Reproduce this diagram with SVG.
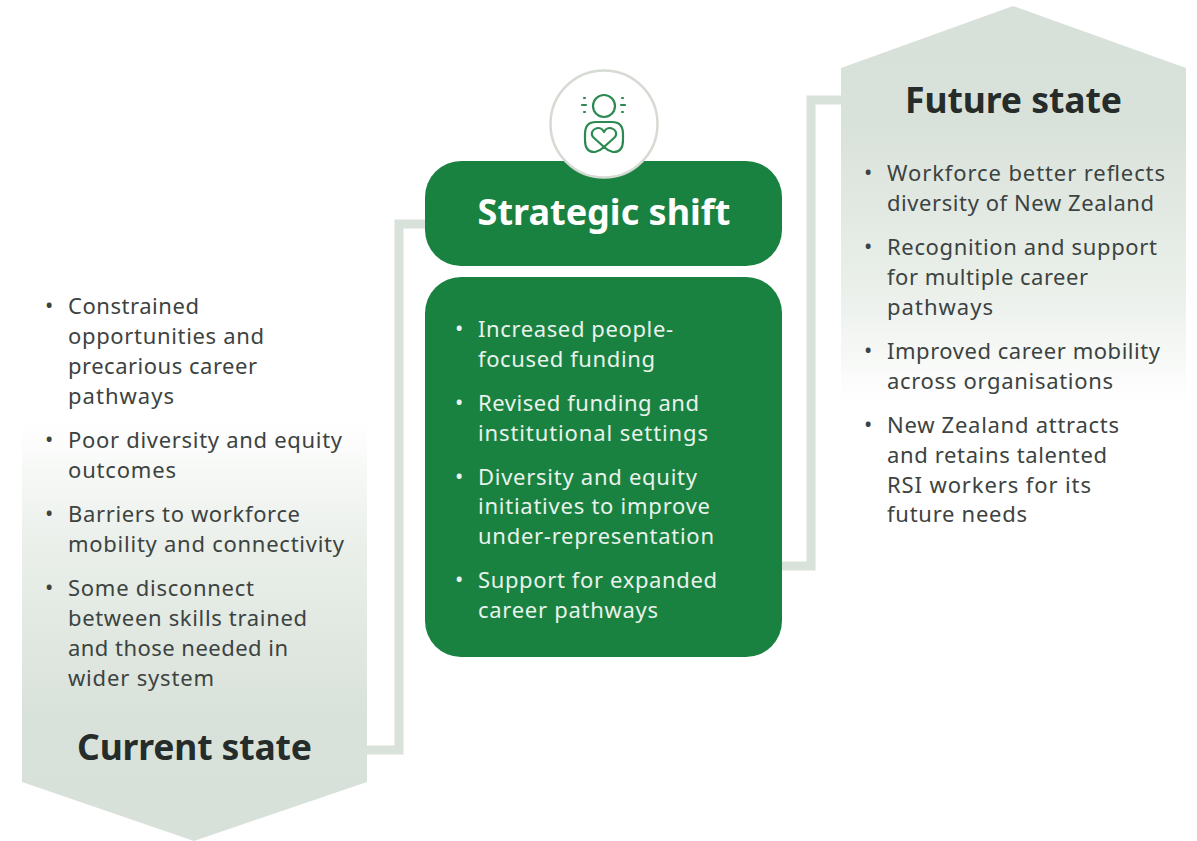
<svg xmlns="http://www.w3.org/2000/svg" width="1197" height="841" viewBox="0 0 1197 841">
<style>
text{font-family:"Noto Sans","DejaVu Sans",sans-serif}
.b{font-size:22px;fill:#3c4341}
.w{font-size:22px;fill:#e9f2ec}
.h{font-size:35.5px;font-weight:700;fill:#252c2a;text-anchor:middle}
.hw{font-size:36px;font-weight:700;fill:#fff;text-anchor:middle}
.conn{fill:none;stroke:#d9e2da;stroke-width:9}
.ic{fill:none;stroke:#2c8a50;stroke-width:2.2;stroke-linecap:round;stroke-linejoin:round}
</style>
<defs>
<linearGradient id="gu" x1="0" y1="0" x2="0" y2="1"><stop offset="0" stop-color="#d8e1d9"/><stop offset=".3" stop-color="#d9e2da"/><stop offset=".7" stop-color="#eaefea"/><stop offset="1" stop-color="#fff"/></linearGradient>
<linearGradient id="gd" x1="0" y1="0" x2="0" y2="1"><stop offset="0" stop-color="#fff"/><stop offset=".3" stop-color="#eaefea"/><stop offset=".7" stop-color="#d9e2da"/><stop offset="1" stop-color="#d8e1d9"/></linearGradient>
</defs>
<g id="connectors">
<path class="conn" d="M367 750H399V224H428"/>
<path class="conn" d="M780 566H811V100H842"/>
</g>
<g id="current-state">
<path d="M22 420H367V782L194 841L22 782Z" fill="url(#gd)"/>
<text class="h" x="194.500" y="760" textLength="235">Current state</text>
<g class="b">
<text x="45" y="313">•</text><text x="68" y="314" textLength="131">Constrained</text><text x="68" y="344" textLength="196">opportunities and</text><text x="68" y="374" textLength="189">precarious career</text><text x="68" y="404" textLength="106">pathways</text>
<text x="45" y="447">•</text><text x="68" y="448" textLength="274">Poor diversity and equity</text><text x="68" y="478" textLength="108">outcomes</text>
<text x="45" y="521">•</text><text x="68" y="522" textLength="232">Barriers to workforce</text><text x="68" y="552" textLength="276">mobility and connectivity</text>
<text x="45" y="595">•</text><text x="68" y="596" textLength="186">Some disconnect</text><text x="68" y="626" textLength="239">between skills trained</text><text x="68" y="656" textLength="220">and those needed in</text><text x="68" y="686" textLength="146">wider system</text>
</g>
</g>
<g id="strategic-shift">
<rect x="425" y="161" width="357" height="105" rx="36" fill="#1a8240"/>
<text class="hw" x="604" y="225">Strategic shift</text>
</g>
<g id="icon">
<circle cx="604" cy="124" r="53.5" fill="#fff" stroke="#d5dad2" stroke-width="2.5"/>
<circle class="ic" cx="604" cy="106" r="11"/>
<path class="ic" d="M584 98h1M582 105h4M584 112h1M622 98h1M621 105h4M622 112h1"/>
<path class="ic" d="M595 152H594Q585 152 585 140V134Q585 122 596 122H612Q623 122 623 134V140Q623 152 614 152H613"/>
<path class="ic" d="M613 152Q608 151 604 147L593 137C588 130 600 124 604 132C608 124 620 130 615 137L604 147Q600 151 595 152"/>
</g>
<g id="shift-actions">
<rect x="425" y="277" width="357" height="380" rx="36" fill="#1a8240"/>
<g class="w">
<text x="455" y="336">•</text><text x="478" y="337" textLength="195">Increased people-</text><text x="478" y="367" textLength="177">focused funding</text>
<text x="455" y="410">•</text><text x="478" y="411" textLength="221">Revised funding and</text><text x="478" y="441" textLength="230">institutional settings</text>
<text x="455" y="484">•</text><text x="478" y="485" textLength="219">Diversity and equity</text><text x="478" y="514" textLength="232">initiatives to improve</text><text x="478" y="544" textLength="236">under-representation</text>
<text x="455" y="587">•</text><text x="478" y="588" textLength="239">Support for expanded</text><text x="478" y="618" textLength="180">career pathways</text>
</g>
</g>
<g id="future-state">
<path d="M841 68L1013 6L1186 68V405H841Z" fill="url(#gu)"/>
<text class="h" x="1013.500" y="113" textLength="217">Future state</text>
<g class="b">
<text x="864" y="180">•</text><text x="887" y="181" textLength="278">Workforce better reflects</text><text x="887" y="211" textLength="267">diversity of New Zealand</text>
<text x="864" y="254">•</text><text x="887" y="255" textLength="270">Recognition and support</text><text x="887" y="285" textLength="201">for multiple career</text><text x="887" y="315" textLength="106">pathways</text>
<text x="864" y="358">•</text><text x="887" y="359" textLength="273">Improved career mobility</text><text x="887" y="389" textLength="226">across organisations</text>
<text x="864" y="432">•</text><text x="887" y="433" textLength="232">New Zealand attracts</text><text x="887" y="463" textLength="220">and retains talented</text><text x="887" y="493" textLength="204">RSI workers for its</text><text x="887" y="522" textLength="140">future needs</text>
</g>
</g>
</svg>
